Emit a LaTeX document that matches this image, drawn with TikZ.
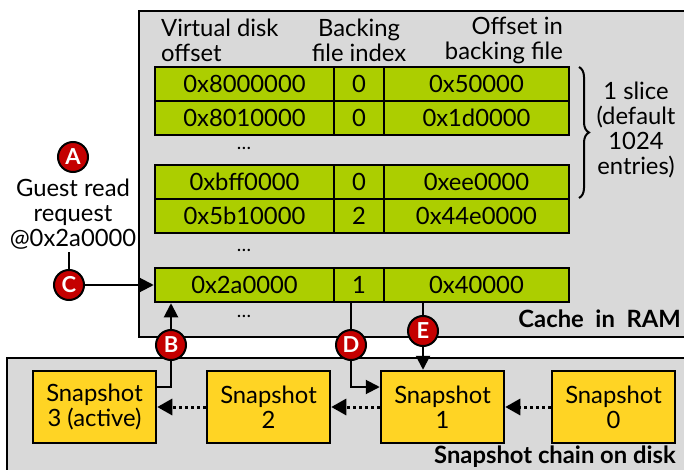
\documentclass[tikz,border=0pt]{standalone}
\usepackage{fontspec}
\setmainfont{Lato}
\usetikzlibrary{arrows.meta,decorations.pathreplacing}
\definecolor{boxgray}{RGB}{217,217,217}
\definecolor{cellgreen}{RGB}{172,206,0}
\definecolor{snapyellow}{RGB}{255,212,36}
\definecolor{markred}{RGB}{196,0,0}
\newcommand\tabrow[5]{%
  \node[cell, minimum width=179pt] (#1a) at (244.5,#2) {#3};
  \node[cell, minimum width=50pt] (#1b) at (359,#2) {#4};
  \node[cell, minimum width=185pt] (#1c) at (476.5,#2) {#5};}
\begin{document}
\begin{tikzpicture}[x=1pt,y=-1pt,
  font=\fontsize{23.8}{25}\selectfont,
  region/.style={draw=black, line width=2pt, fill=boxgray},
  cell/.style={draw=black, line width=2.5pt, fill=cellgreen, minimum height=34pt, inner sep=0pt},
  snap/.style={draw=black, line width=2.5pt, fill=snapyellow, minimum width=123pt, minimum height=72pt, inner sep=0pt, align=center},
  redmark/.style={circle, draw=black, line width=2pt, fill=markred, text=white, minimum size=30pt, inner sep=0pt, font=\fontsize{22}{22}\selectfont\bfseries},
  conn/.style={draw=black, line width=2pt},
  tip/.style={-{Triangle[length=14pt,width=14pt]}},
  dotarrow/.style={draw=black, line width=3pt, dash pattern=on 3pt off 3pt, -{Triangle[length=15pt,width=16pt]}},
  ellip/.style={inner sep=0pt, font=\fontsize{19}{19}\selectfont},
  lbl/.style={font=\fontsize{23.8}{25}\selectfont\bfseries}]
\useasboundingbox (0,0) rectangle (684,470);
\clip (0,0) rectangle (684,470);
\path[region] (139,11) rectangle (700,337);
\path[region] (7,358) rectangle (700,490);

% headers
\node[anchor=west, align=left, inner sep=0pt] (h1) at (161,40) {Virtual disk\\offset};
\node[align=center, inner sep=0pt] (h2) at (359,40) {Backing\\file index};
\node[anchor=east, align=right, inner sep=0pt] (h3) at (563,40) {Offset in\\backing file};

% table rows
\tabrow{ra}{84}{0x8000000}{0}{0x50000}
\tabrow{rb}{118}{0x8010000}{0}{0x1d0000}
\tabrow{rc}{182}{0xbff0000}{0}{0xee0000}
\tabrow{rd}{216}{0x5b10000}{2}{0x44e0000}
\tabrow{re}{285}{0x2a0000}{1}{0x40000}
\node[ellip] (d1) at (244,148) {…};
\node[ellip] (d2) at (244,250) {…};
\node[ellip] (d3) at (244,316) {…};

% brace
\draw[line width=2pt, decorate, decoration={brace, amplitude=10pt}] (579,67) -- (579,198);
\node[align=center, inner sep=0pt] (slice) at (636,130) {1 slice\\(default\\1024\\entries)};

% guest request
\node[redmark] (A) at (73,157) {A};
\node[align=center, inner sep=0pt] (guest) at (73,214) {Guest read\\request\\@0x2a0000};
\node[redmark] (C) at (69,285) {C};

% snapshots
\node[snap] (S3) at (94.5,407) {Snapshot\\3 (active)};
\node[snap] (S2) at (268.5,407) {Snapshot\\2};
\node[snap] (S1) at (442.5,407) {Snapshot\\1};
\node[snap] (S0) at (613.5,407) {Snapshot\\0};

% markers
\node[redmark] (B) at (171,345) {B};
\node[redmark] (D) at (351,345) {D};
\node[redmark] (E) at (423,331) {E};

% connectors
\draw[conn] ([yshift=-3pt]C |- guest.south) -- (C);
\draw[conn, tip] (C) -- (C -| rea.west);
\draw[conn] ([yshift=20pt]S3.east) -| (B);
\draw[conn, tip] (B) -- (B |- rea.south);
\draw[conn] (D |- reb.south) -- (D);
\draw[conn, tip] (D) |- ([yshift=20pt]S1.west);
\draw[conn] (E |- rec.south) -- (E);
\draw[conn, tip] (E) -- (E |- S1.north);
\draw[dotarrow] (S2.west) -- (S3.east);
\draw[dotarrow] (S1.west) -- (S2.east);
\draw[dotarrow] (S0.west) -- (S1.east);

% labels
\node[lbl, anchor=east, inner sep=0pt] (cachelbl) at (681,319) {Cache\ \ in\ \ RAM};
\node[lbl, anchor=east, inner sep=0pt] (chainlbl) at (676,457) {Snapshot chain on disk};
\end{tikzpicture}
\end{document}
